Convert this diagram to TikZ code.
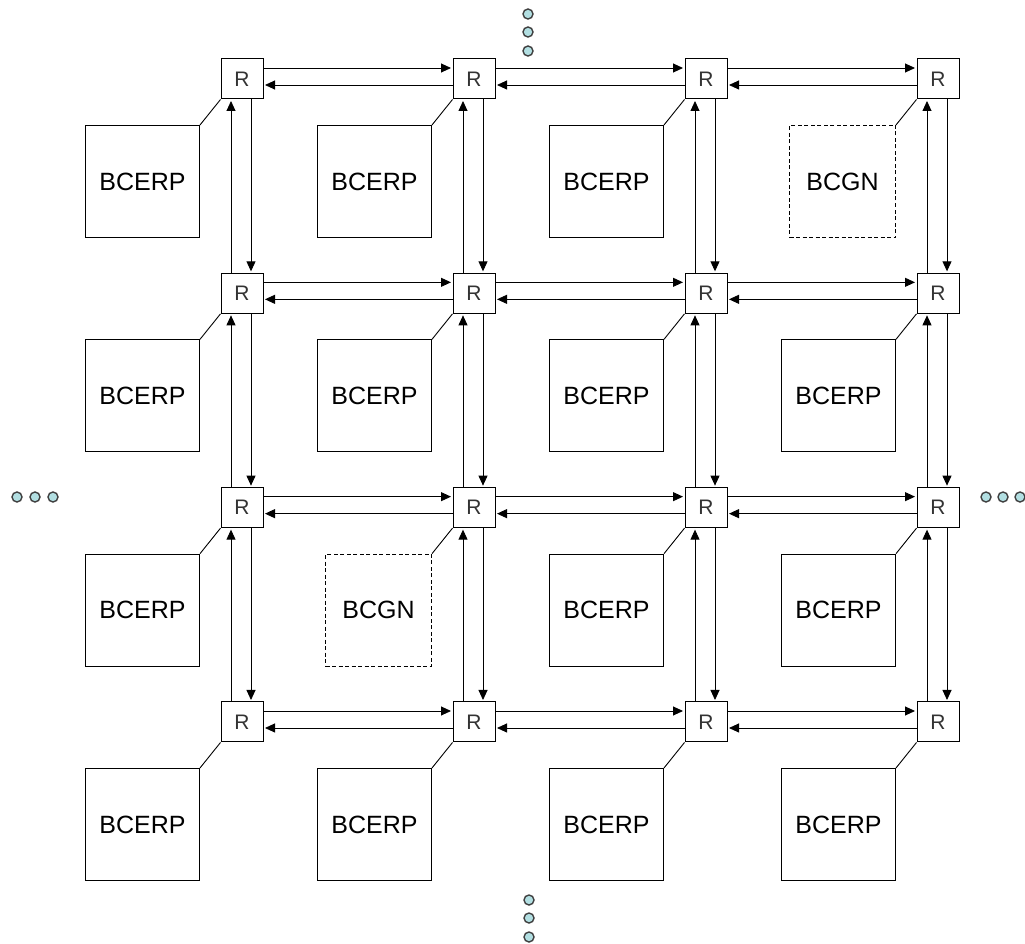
\documentclass[tikz,border=0pt]{standalone}
\usepackage{fontspec}
\setmainfont{Liberation Sans}
\usetikzlibrary{arrows.meta,calc}
\definecolor{dotc}{HTML}{B2DFE2}
\begin{document}
\begin{tikzpicture}[x=1pt,y=-1pt,
  router/.style={draw,line width=1pt,minimum width=42pt,minimum height=40pt,inner sep=0pt,font=\fontsize{21}{21}\selectfont,text=black!80},
  pe/.style={draw,line width=1pt,minimum width=114pt,minimum height=112pt,inner sep=0pt,anchor=north east,font=\fontsize{25}{25}\selectfont},
  gn/.style={pe,dash pattern=on 4pt off 2.5pt,minimum width=106pt},
  link/.style={line width=0.9pt},
  arr/.style={link,-{Triangle[length=10pt,width=9pt]},shorten >=1.5pt},
  dot/.style={circle,draw=black!75,fill=dotc,line width=1.4pt,minimum size=10pt,inner sep=0pt}
]
\useasboundingbox (0,0) rectangle (1025,944);
\foreach \i in {0,...,3}
  \foreach \j in {0,...,3}
    \node[router] (R\i\j) at ({242+232*\j},{79+214.33*\i}) {R};
\foreach \i/\j/\s/\t in {0/0/pe/BCERP,0/1/pe/BCERP,0/2/pe/BCERP,0/3/gn/BCGN,
                         1/0/pe/BCERP,1/1/pe/BCERP,1/2/pe/BCERP,1/3/pe/BCERP,
                         2/0/pe/BCERP,2/1/gn/BCGN,2/2/pe/BCERP,2/3/pe/BCERP,
                         3/0/pe/BCERP,3/1/pe/BCERP,3/2/pe/BCERP,3/3/pe/BCERP}
  {
    \node[\s] (B\i\j) at ({242+232*\j-42},{79+214.33*\i+46}) {\t};
    \draw[link] (B\i\j.north east) -- (R\i\j.south west);
  }
\foreach \i in {0,...,3}
  \foreach \j/\k in {0/1,1/2,2/3}
  {
    \draw[arr] ($(R\i\j.east)+(0,-11)$) -- ($(R\i\k.west)+(0,-11)$);
    \draw[arr] ($(R\i\k.west)+(0,6)$) -- ($(R\i\j.east)+(0,6)$);
  }
\foreach \i/\k in {0/1,1/2,2/3}
  \foreach \j in {0,...,3}
  {
    \draw[arr] ($(R\k\j.north)+(-11,0)$) -- ($(R\i\j.south)+(-11,0)$);
    \draw[arr] ($(R\i\j.south)+(9,0)$) -- ($(R\k\j.north)+(9,0)$);
  }
\node[dot] (t1) at (528,14) {};
\node[dot] (t2) at (528,32) {};
\node[dot] (t3) at (528,51) {};
\node[dot] (b1) at (529,900) {};
\node[dot] (b2) at (529,918) {};
\node[dot] (b3) at (529,937) {};
\node[dot] (l1) at (17,497) {};
\node[dot] (l2) at (35,497) {};
\node[dot] (l3) at (53,497) {};
\node[dot] (r1) at (986,497) {};
\node[dot] (r2) at (1003,497) {};
\node[dot] (r3) at (1020,497) {};
\end{tikzpicture}
\end{document}
